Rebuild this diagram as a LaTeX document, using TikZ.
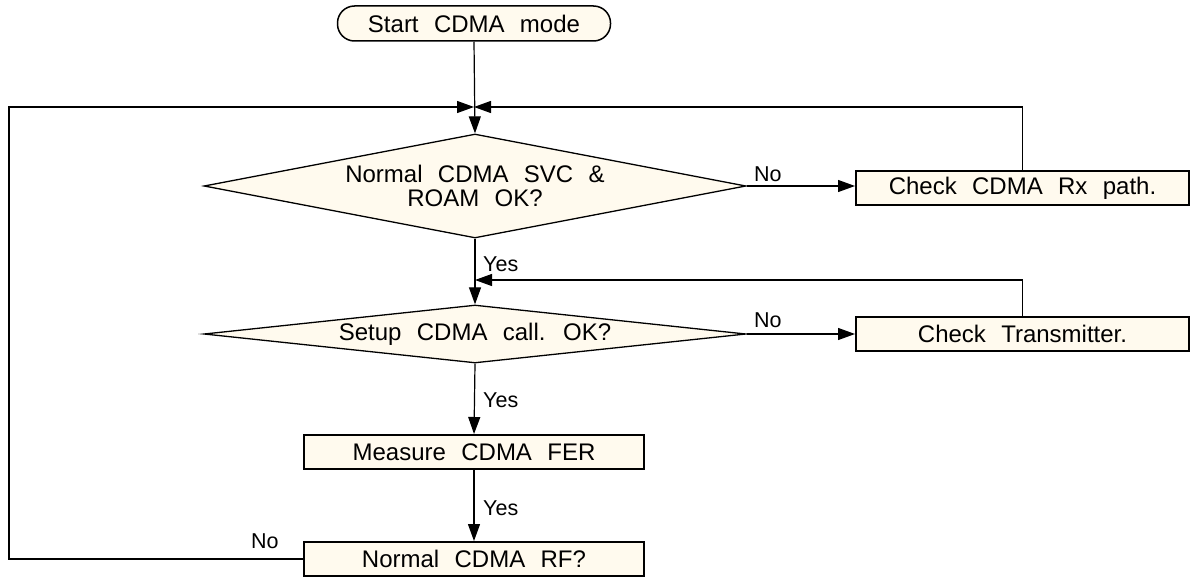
\documentclass[tikz,border=0pt]{standalone}
\usepackage{fontspec}
\setmainfont{Liberation Sans}[WordSpace=2.3]
\usetikzlibrary{shapes.geometric,arrows.meta}
\definecolor{cream}{RGB}{255,250,238}
\tikzset{
  main/.style={font=\fontsize{24}{24}\selectfont},
  lbl/.style={font=\fontsize{21.5}{23}\selectfont, inner sep=0pt, anchor=base west},
  boxnode/.style={main, draw, line width=2pt, fill=cream, inner sep=0pt, minimum height=34pt},
  startnode/.style={main, draw, line width=1.5pt, fill=cream, rounded corners=17pt, inner sep=0pt, minimum width=273pt, minimum height=35pt},
  decision/.style={main, diamond, draw, line width=1.3pt, fill=cream, inner sep=0pt, align=center},
  conn/.style={line width=1.2pt},
  arr/.style={conn, -{Triangle[length=17pt,width=12pt]}},
}
\begin{document}
\begin{tikzpicture}[x=1pt,y=-1pt]
\useasboundingbox (0,0) rectangle (1190,578);
\node[startnode] (start) at (474,23.5) {Start CDMA mode};
\node[decision, minimum width=542pt, minimum height=104pt, aspect=5.2] (d1) at (475,186) {Normal CDMA SVC \&\\ROAM OK?};
\node[boxnode, minimum width=333pt] (b1) at (1022.5,188) {Check CDMA Rx path.};
\node[decision, minimum width=542pt, minimum height=58pt, aspect=9.34] (d2) at (475,334) {Setup CDMA call. OK?};
\node[boxnode, minimum width=333pt] (b2) at (1022.5,334) {Check Transmitter.};
\node[boxnode, minimum width=340pt] (m) at (474,452) {Measure CDMA FER};
\node[boxnode, minimum width=340pt] (n) at (474,559) {Normal CDMA RF?};
\coordinate (J) at (474,107);
\coordinate (J2) at (475,280);
\coordinate (leftx) at (9,0);
% labels
\node[lbl] (no1) at (754,181) {No};
\node[lbl] (no2) at (754,327) {No};
\node[lbl] (yes1) at (483,271) {Yes};
\node[lbl] (yes2) at (483,407) {Yes};
\node[lbl] (yes3) at (483,515) {Yes};
\node[lbl] (no3) at (251,548) {No};
% connectors
\draw[arr] (start.south) -- (d1.north);
\draw[arr] (n.west) -- (n.west -| leftx) |- (J);
\draw[arr] (b1.north) |- (J);
\draw[arr] (d1.east) -- (d1.east -| b1.west);
\draw[arr] (d1.south) -- (d2.north);
\draw[arr] (b2.north) |- (J2);
\draw[arr] (d2.east) -- (d2.east -| b2.west);
\draw[arr] (d2.south) -- (m.north);
\draw[arr] (m.south) -- (n.north);
\end{tikzpicture}
\end{document}
